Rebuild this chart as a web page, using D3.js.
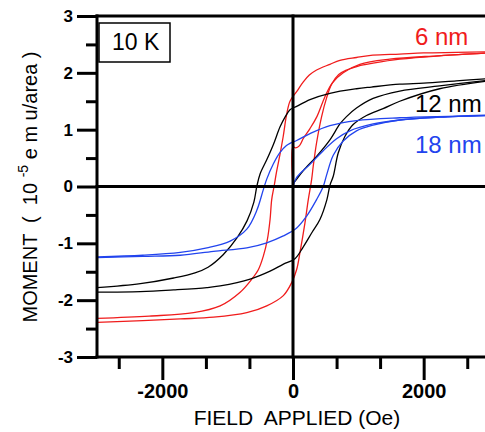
<!DOCTYPE html>
<html>
<head>
<meta charset="utf-8">
<script src="https://cdn.jsdelivr.net/npm/d3@7"></script>
<style>
  body { margin: 0; background: #fff; }
  svg { display: block; font-family: "Liberation Sans", Arial, sans-serif; }
</style>
</head>
<body>
<div id="chart"></div>
<script>
// hysteresis loops at 10 K, field (Oe) vs moment (1e-5 emu/area)
const down6 = [[3000,2.37],[2500,2.36],[2000,2.35],[1634,2.33],[1221,2.31],[972,2.27],[718,2.22],[565,2.15],[361,2.05],[250,1.96],[158,1.84],[56,1.67],[-46,1.5],[-100,1.25],[-150,0.88],[-200,0.56],[-250,0.27],[-290,0.0],[-326,-0.23],[-351,-0.58],[-392,-0.93],[-453,-1.22],[-529,-1.46],[-631,-1.63],[-809,-1.86],[-1115,-2.1],[-1522,-2.22],[-2200,-2.28],[-3000,-2.32]]
const up6 = [[-3000,-2.39],[-2300,-2.36],[-1725,-2.33],[-1216,-2.3],[-707,-2.22],[-402,-2.1],[-148,-1.92],[-20,-1.69],[56,-1.46],[107,-1.16],[183,-0.64],[234,-0.23],[285,0.12],[310,0.36],[361,0.77],[438,1.23],[514,1.56],[591,1.8],[700,1.97],[819,2.05],[1000,2.12],[1226,2.17],[1634,2.24],[2244,2.3],[3000,2.35]]
const virgin6 = [[0,0],[0,0.7],[40,0.68],[100,0.72],[160,0.85],[260,1.02],[366,1.23],[489,1.58],[600,1.82],[769,2.0],[1023,2.15],[1481,2.24],[2200,2.3],[3000,2.35]]

const down12 = [[3000,1.9],[2500,1.86],[2000,1.82],[1634,1.8],[1200,1.75],[972,1.72],[565,1.64],[260,1.53],[56,1.41],[-46,1.35],[-122,1.22],[-198,1.05],[-300,0.74],[-402,0.47],[-504,0.22],[-554,0.0],[-600,-0.28],[-702,-0.6],[-855,-0.9],[-1069,-1.2],[-1300,-1.42],[-1500,-1.52],[-1827,-1.61],[-2336,-1.71],[-3000,-1.78]]
const up12 = [[-3000,-1.86],[-2336,-1.85],[-1827,-1.82],[-1318,-1.78],[-1115,-1.75],[-656,-1.63],[-351,-1.49],[-153,-1.37],[30,-1.27],[153,-1.07],[290,-0.81],[412,-0.58],[519,-0.23],[565,0.02],[616,0.18],[692,0.59],[794,0.88],[921,1.09],[1125,1.25],[1379,1.37],[1634,1.5],[2244,1.72],[3000,1.86]]
const virgin12 = [[0,0.05],[30,0.09],[158,0.28],[361,0.53],[565,0.82],[718,1.1],[819,1.23],[972,1.38],[1226,1.55],[1634,1.68],[2244,1.77],[3000,1.87]]

const down18 = [[3000,1.26],[2500,1.24],[1634,1.21],[972,1.16],[565,1.07],[260,0.93],[56,0.81],[-46,0.76],[-100,0.72],[-198,0.6],[-300,0.4],[-402,0.13],[-453,-0.05],[-554,-0.42],[-707,-0.75],[-962,-0.96],[-1318,-1.08],[-1725,-1.16],[-2300,-1.21],[-3000,-1.24]]
const up18 = [[-3000,-1.25],[-2300,-1.23],[-1725,-1.21],[-1216,-1.14],[-707,-1.08],[-402,-0.99],[-148,-0.87],[56,-0.73],[209,-0.52],[361,-0.23],[463,0.0],[514,0.2],[616,0.55],[769,0.8],[972,0.98],[1226,1.08],[1634,1.17],[2244,1.22],[3000,1.25]]
const virgin18 = [[0,0],[56,0.16],[260,0.39],[463,0.63],[667,0.84],[870,0.98],[1226,1.1],[1634,1.17],[2244,1.22],[3000,1.25]]

const sampleNames = ['6 nm', '12 nm', '18 nm']
const sampleColors = ['#f01c1c', '#000000', '#2244ee']
const sampleCurves = [[down6, up6, virgin6], [down12, up12, virgin12], [down18, up18, virgin18]]

const fieldMajor = [-2000, 0, 2000]
const fieldMinor = [-2667, -1333, -667, 667, 1333, 2667]
const momentMajor = [-3, -2, -1, 0, 1, 2, 3]
const momentMinor = [-2.5, -1.5, -0.5, 0.5, 1.5, 2.5]

const width = 485
const height = 432

const svg = d3.select('#chart')
  .append('svg')
  .attr('width', width)
  .attr('height', height)

const x = d3.scaleLinear().domain([-3000, 3000]).range([97, 489])
const y = d3.scaleLinear().domain([-3, 3]).range([357, 16])

const line = d3.line()
  .x((d) => x(d[0]))
  .y((d) => y(d[1]))
  .curve(d3.curveCatmullRom.alpha(0.5))

// loops first so the heavy axes sit on top
sampleCurves.forEach((curves, i) => {
  svg.append('g')
    .selectAll('path')
    .data(curves)
    .enter()
    .append('path')
    .attr('d', line)
    .attr('fill', 'none')
    .attr('stroke', sampleColors[i])
    .attr('stroke-width', 1.3)
})

const axisStyle = (g) => {
  g.selectAll('line').attr('stroke', '#000').attr('stroke-width', 3)
  g.selectAll('.domain').remove()
}

// left axis
svg.append('g')
  .attr('transform', `translate(${x(-3000)},0)`)
  .call(d3.axisLeft(y).tickValues(momentMinor).tickSize(11).tickFormat(''))
  .call(axisStyle)
svg.append('g')
  .attr('transform', `translate(${x(-3000)},0)`)
  .call(d3.axisLeft(y).tickValues(momentMajor).tickSize(20).tickPadding(4)
    .tickFormat((d) => String(d)))
  .call(axisStyle)
  .call((g) => g.selectAll('text')
    .attr('font-size', 17)
    .attr('font-weight', 'bold')
    .attr('fill', '#000'))

// bottom axis
svg.append('g')
  .attr('transform', `translate(0,${y(-3)})`)
  .call(d3.axisBottom(x).tickValues(fieldMinor).tickSize(12).tickFormat(''))
  .call(axisStyle)
svg.append('g')
  .attr('transform', `translate(0,${y(-3)})`)
  .call(d3.axisBottom(x).tickValues(fieldMajor).tickSize(23).tickPadding(4)
    .tickFormat((d) => String(d)))
  .call(axisStyle)
  .call((g) => g.selectAll('text')
    .attr('font-size', 20)
    .attr('font-weight', 'bold')
    .attr('fill', '#000'))

// frame (left, top, bottom) and zero lines
const frame = svg.append('g')
  .attr('stroke', '#000')
  .attr('stroke-width', 3)
  .attr('stroke-linecap', 'square')
const frameLines = [
  [[-3000, 3], [-3000, -3]],
  [[-3000, 3], [3000, 3]],
  [[-3000, -3], [3000, -3]],
  [[-3000, 0], [3000, 0]],
  [[0, 3], [0, -3]],
]
frame.selectAll('line')
  .data(frameLines)
  .enter()
  .append('line')
  .attr('x1', (d) => x(d[0][0]))
  .attr('y1', (d) => y(d[0][1]))
  .attr('x2', (d) => x(d[1][0]))
  .attr('y2', (d) => y(d[1][1]))

// temperature box
svg.append('rect')
  .attr('x', 99).attr('y', 23).attr('width', 71).attr('height', 39)
  .attr('fill', '#fff').attr('stroke', '#000').attr('stroke-width', 1.5)
svg.append('text')
  .attr('x', 112).attr('y', 50)
  .attr('font-size', 23)
  .text('10 K')

// sample labels
const labelY = [45, 112, 153]
svg.append('g')
  .selectAll('text')
  .data(sampleNames)
  .enter()
  .append('text')
  .attr('x', 415)
  .attr('y', (d, i) => labelY[i])
  .attr('font-size', 24)
  .attr('fill', (d, i) => sampleColors[i])
  .text((d) => d)

// axis titles
svg.append('text')
  .attr('x', 297)
  .attr('y', 425)
  .attr('text-anchor', 'middle')
  .attr('font-size', 21)
  .attr('xml:space', 'preserve')
  .text('FIELD  APPLIED (Oe)')

const yTitle = svg.append('text')
  .attr('transform', 'translate(37,187) rotate(-90)')
  .attr('text-anchor', 'middle')
  .attr('font-size', 20)
  .attr('xml:space', 'preserve')
yTitle.append('tspan').text('MOMENT  (  10 ')
yTitle.append('tspan').attr('dy', -9).attr('font-size', 14).text('-5')
yTitle.append('tspan').attr('dy', 9).text(' e m u/area )')
</script>
</body>
</html>
